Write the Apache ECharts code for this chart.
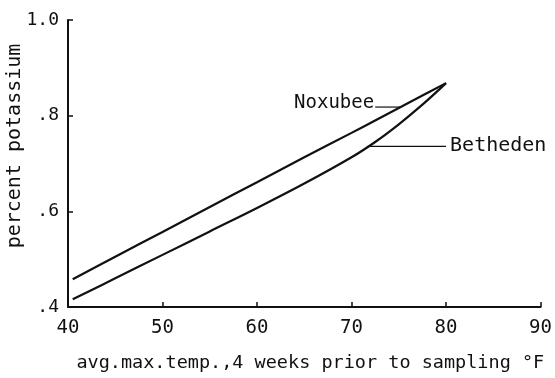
<!DOCTYPE html>
<html>
<head>
<meta charset="utf-8">
<script src="https://cdn.jsdelivr.net/npm/echarts@6/dist/echarts.min.js"></script>
<style>
  html, body { margin: 0; padding: 0; background: #fff; }
  #chart { width: 555px; height: 378px; }
</style>
</head>
<body>
<div id="chart"></div>
<script>
// Average max. temperature (°F) over the 4 weeks before sampling
const temps = [40.5, 45, 50, 55, 60, 65, 70, 72.5, 75, 77.5, 80];
// Percent potassium by variety
const noxubee = [0.458, 0.505, 0.557, 0.609, 0.661, 0.713, 0.764, 0.790, 0.816, 0.842, 0.868];
const betheden = [0.416, 0.460, 0.509, 0.558, 0.607, 0.658, 0.713, 0.745, 0.782, 0.823, 0.868];

// Y tick labels (leading zero dropped)
const yTickLabels = { '0.4': '.4', '0.6': '.6', '0.8': '.8', '1': '1.0' };

// Leader-line anchors for the curve labels: [x start, x end, y]
const noxubeeLeader = [75.2, 72.5, 0.818];
const bethedenLeader = [71.7, 80.0, 0.736];

const FONT = 'DejaVu Sans Mono';
const INK = '#111';

const chart = echarts.init(document.getElementById('chart'), null, { renderer: 'canvas' });

const pairs = (xs, ys) => xs.map((x, i) => [x, ys[i]]);

chart.setOption({
  animation: false,
  backgroundColor: '#fff',
  grid: { left: 68, right: 11, top: 20, bottom: 67, containLabel: false },
  xAxis: {
    type: 'value',
    min: 40, max: 90, interval: 10,
    name: 'avg.max.temp.,4 weeks prior to sampling °F',
    nameLocation: 'middle',
    nameGap: 47,
    nameTextStyle: { fontFamily: FONT, fontSize: 18.5, color: INK, padding: [0, 0, 0, 12] },
    axisLine: { show: true, lineStyle: { color: INK, width: 2 } },
    axisTick: { show: true, inside: true, length: 5, lineStyle: { color: INK, width: 1.5 } },
    axisLabel: { fontFamily: FONT, fontSize: 19, color: INK, margin: 12 },
    splitLine: { show: false }
  },
  yAxis: {
    type: 'value',
    min: 0.4, max: 1.0, interval: 0.2,
    axisLine: { show: true, lineStyle: { color: INK, width: 2 } },
    axisTick: { show: true, inside: true, length: 5, lineStyle: { color: INK, width: 1.5 } },
    axisLabel: {
      fontFamily: FONT, fontSize: 18, color: INK, margin: 9,
      formatter: v => yTickLabels[String(+v.toFixed(2))] || ''
    },
    splitLine: { show: false }
  },
  series: [
    {
      name: 'Noxubee', type: 'line', data: pairs(temps, noxubee),
      smooth: 0.4, symbol: 'none',
      lineStyle: { color: INK, width: 2.2 }
    },
    {
      name: 'Betheden', type: 'line', data: pairs(temps, betheden),
      smooth: 0.4, symbol: 'none',
      lineStyle: { color: INK, width: 2.2 }
    }
  ]
});

// Curve labels with leader lines, placed through the axis scales
const toPx = (x, y) => chart.convertToPixel({ gridIndex: 0 }, [x, y]);
const nA = toPx(noxubeeLeader[0], noxubeeLeader[2]);
const nB = toPx(noxubeeLeader[1], noxubeeLeader[2]);
const bA = toPx(bethedenLeader[0], bethedenLeader[2]);
const bB = toPx(bethedenLeader[1], bethedenLeader[2]);

chart.setOption({
  graphic: [
    {
      type: 'line',
      shape: { x1: nA[0], y1: nA[1], x2: nB[0], y2: nB[1] },
      style: { stroke: INK, lineWidth: 1.2 }
    },
    {
      type: 'text', x: nB[0] - 1, y: nB[1] - 4,
      style: { text: 'Noxubee', fontFamily: FONT, fontSize: 19, fill: INK, align: 'right', verticalAlign: 'middle' }
    },
    {
      type: 'line',
      shape: { x1: bA[0], y1: bA[1], x2: bB[0], y2: bB[1] },
      style: { stroke: INK, lineWidth: 1.2 }
    },
    {
      type: 'text', x: bB[0] + 4, y: bB[1],
      style: { text: 'Betheden', fontFamily: FONT, fontSize: 20, fill: INK, align: 'left', verticalAlign: 'middle' }
    },
    {
      type: 'text', x: 15, y: 146, rotation: Math.PI / 2,
      style: { text: 'percent potassium', fontFamily: FONT, fontSize: 20, fill: INK, align: 'center', verticalAlign: 'middle' }
    }
  ]
});
</script>
</body>
</html>
